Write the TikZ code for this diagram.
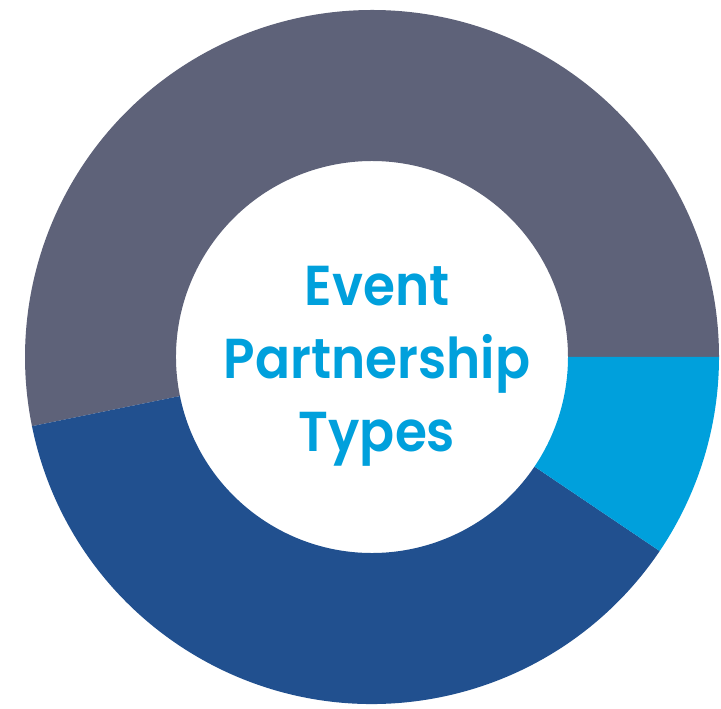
\documentclass[tikz,border=0pt]{standalone}
\usepackage{fontspec}
\usetikzlibrary{calc}
\newfontfamily\labelfont{Poppins SemiBold}[FakeStretch=0.92]
\definecolor{ringgray}{RGB}{94,98,121}
\definecolor{ringnavy}{RGB}{33,80,143}
\definecolor{ringcyan}{RGB}{0,160,220}
\def\ringpart[#1](#2:#3){\fill[#1] ($(ctr)+(#2:347)$) arc (#2:#3:347) -- ($(ctr)+(#3:196)$) arc (#3:#2:196) -- cycle;}

\begin{document}
\begin{tikzpicture}[x=0.025cm, y=0.025cm]
		%%%%% START %%%%%
		
		\fill[white] (0, 0) rectangle (721, 708);
		\useasboundingbox (0, 0) rectangle (721, 708);
		\coordinate (ctr) at (372, 351);
		
		\ringpart[ringgray](0:191.5);
		\ringpart[ringnavy](191.5:326);
		\ringpart[ringcyan](326:360);
		
		\node[color=ringcyan, align=center, font=\labelfont\fontsize{40}{52}\selectfont] (title) at (377, 342) {Event\\Partnership\\Types};
		
		%%%%% END %%%%%
	\end{tikzpicture}
\end{document}
